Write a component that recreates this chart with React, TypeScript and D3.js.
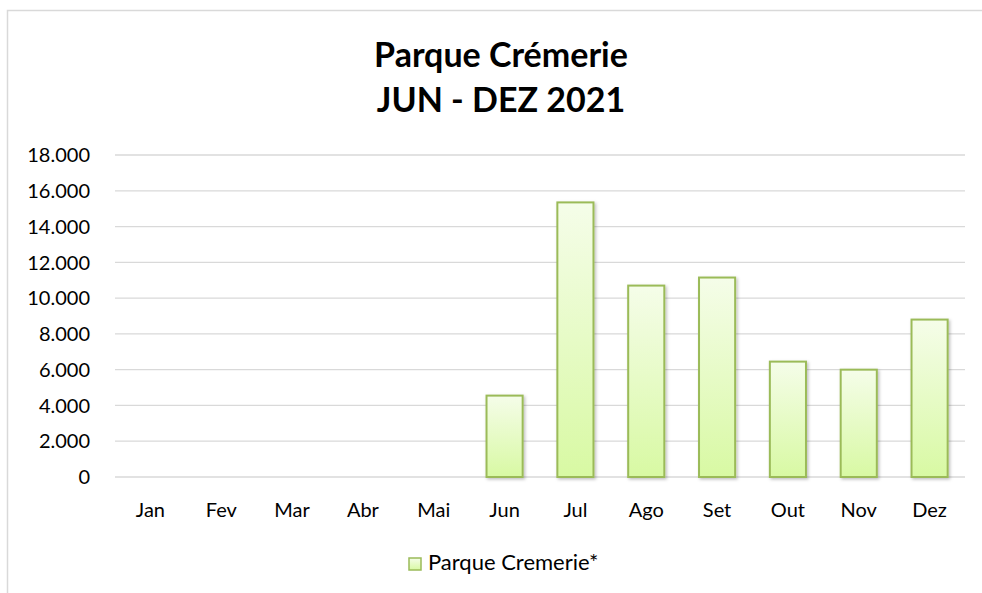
import * as d3 from "d3";
import { useEffect, useRef } from "react";

const months = ["Jan", "Fev", "Mar", "Abr", "Mai", "Jun", "Jul", "Ago", "Set", "Out", "Nov", "Dez"];
const visitors = [0, 0, 0, 0, 0, 4550, 15350, 10700, 11150, 6450, 6000, 8800];
const yTicks = [0, 2000, 4000, 6000, 8000, 10000, 12000, 14000, 16000, 18000];
const seriesName = "Parque Cremerie*";
const titleLines = ["Parque Crémerie", "JUN - DEZ 2021"];

const width = 982;
const height = 593;
const font = "Lato, 'Open Sans', sans-serif";

function App() {
	const ref = useRef<SVGSVGElement>(null);

	useEffect(() => {
		const svg = d3.select(ref.current);
		svg.selectAll("*").remove();

		const defs = svg.append("defs");
		const grad = defs
			.append("linearGradient")
			.attr("id", "barFill")
			.attr("x1", 0)
			.attr("y1", 0)
			.attr("x2", 0)
			.attr("y2", 1);
		grad.append("stop").attr("offset", "0%").attr("stop-color", "#f5fde9");
		grad.append("stop").attr("offset", "100%").attr("stop-color", "#d8f9a3");
		const shadow = defs.append("filter").attr("id", "shadow").attr("x", "-20%").attr("y", "-5%").attr("width", "150%").attr("height", "115%");
		shadow.append("feDropShadow").attr("dx", 1.5).attr("dy", 1.5).attr("stdDeviation", 1.5).attr("flood-color", "#000").attr("flood-opacity", 0.25);

		// chart frame
		svg.append("rect")
			.attr("x", 7.5)
			.attr("y", 10.5)
			.attr("width", 1000)
			.attr("height", 700)
			.attr("fill", "white")
			.attr("stroke", "#d9d9d9")
			.attr("stroke-width", 1.5);

		const x = d3.scaleBand<string>().domain(months).range([115, 965]).paddingInner(0.49).paddingOuter(0.245);
		const y = d3.scaleLinear().domain([0, 18000]).range([477, 155]);

		svg.append("g")
			.selectAll("line")
			.data(yTicks)
			.enter()
			.append("line")
			.attr("x1", 115)
			.attr("x2", 965)
			.attr("y1", (d) => y(d))
			.attr("y2", (d) => y(d))
			.attr("stroke", "#d9d9d9")
			.attr("stroke-width", 1.3);

		svg.append("g")
			.selectAll("text")
			.data(yTicks)
			.enter()
			.append("text")
			.attr("x", 90)
			.attr("y", (d) => y(d))
			.attr("dy", "0.36em")
			.attr("text-anchor", "end")
			.style("font-family", font)
			.style("font-size", "20px")
			.attr("fill", "#000")
			.text((d) => d3.format(",")(d).replace(/,/g, "."));

		svg.append("g")
			.selectAll("text")
			.data(months)
			.enter()
			.append("text")
			.attr("x", (d) => (x(d) as number) + x.bandwidth() / 2)
			.attr("y", 517)
			.attr("text-anchor", "middle")
			.style("font-family", font)
			.style("font-size", "20px")
			.attr("fill", "#000")
			.text((d) => d);

		svg.append("g")
			.selectAll("rect")
			.data(visitors.map((v, i) => ({ m: months[i], v })).filter((d) => d.v > 0))
			.enter()
			.append("rect")
			.attr("x", (d) => x(d.m) as number)
			.attr("y", (d) => y(d.v))
			.attr("width", x.bandwidth())
			.attr("height", (d) => y(0) - y(d.v))
			.attr("fill", "url(#barFill)")
			.attr("stroke", "#9bbb59")
			.attr("stroke-width", 2)
			.attr("filter", "url(#shadow)");

		const title = svg.append("text")
			.attr("x", 501)
			.attr("text-anchor", "middle")
			.style("font-family", font)
			.style("font-size", "34px")
			.style("font-weight", "bold")
			.attr("fill", "#000");
		titleLines.forEach((t, i) => {
			title.append("tspan").attr("x", 501).attr("y", 67 + i * 45).text(t);
		});

		const legend = svg.append("g").attr("transform", "translate(409,558)");
		legend.append("rect")
			.attr("width", 12)
			.attr("height", 12)
			.attr("fill", "url(#barFill)")
			.attr("stroke", "#9bbb59")
			.attr("stroke-width", 1.5);
		legend.append("text")
			.attr("x", 19)
			.attr("y", 12)
			.style("font-family", font)
			.style("font-size", "22px")
			.attr("fill", "#000")
			.text(seriesName);
	}, []);

	return (
		<svg
			ref={ref}
			width={width}
			height={height}
			style={{ position: "absolute", left: 0, top: 0, background: "white" }}
		></svg>
	);
}

export default App;
